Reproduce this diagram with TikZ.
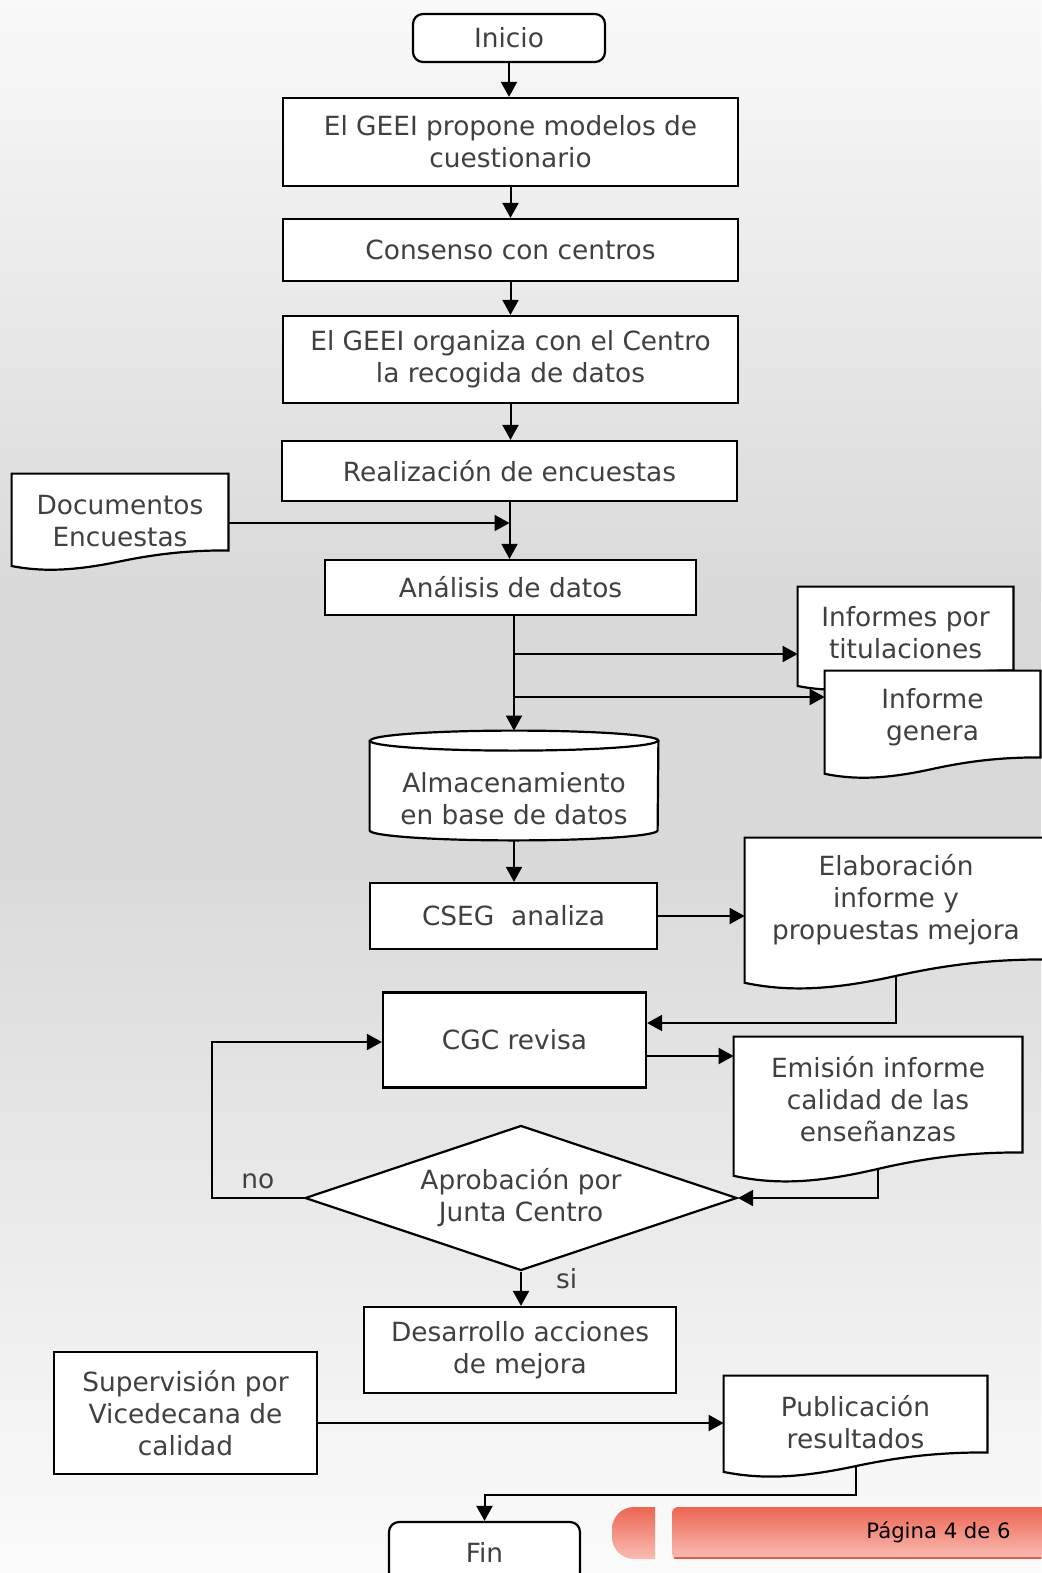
\documentclass[tikz,border=0pt]{standalone}
\usepackage{fontspec}
\setmainfont{DejaVu Sans}
\usepackage{xcolor}
\usepackage{tikz}
\usetikzlibrary{calc,arrows.meta,positioning,shapes.geometric}
\definecolor{txtgray}{HTML}{404040}
\definecolor{bgtop}{HTML}{F9F9F9}
\definecolor{bgmid}{HTML}{D9D9D9}
\definecolor{bgend}{HTML}{FBFBFB}
\definecolor{bartop}{HTML}{EE6552}
\definecolor{barbot}{HTML}{F9BDB4}
\definecolor{barline}{HTML}{D9604E}
\pgfdeclarelayer{paper}
\pgfdeclarelayer{outline}
\pgfsetlayers{paper,outline,main}
\newcommand{\chartfont}{\fontsize{13.2}{16}\selectfont}
\newcommand{\footfont}{\fontsize{10.6}{12}\selectfont}
\newcommand{\docwave}[3]{%
  \begin{pgfonlayer}{outline}
  \draw[shapeline, fill=white] ($(#1.south east)+(0pt,#3)$) -- (#1.north east) -- (#1.north west) -- ($(#1.south west)+(0pt,#3-0.78*#2)$)
    .. controls ($(#1.south west)!0.15!(#1.south east)+(0pt,#3-1.1*#2)$) and ($(#1.south west)!0.3!(#1.south east)+(0pt,#3-1.0*#2)$) .. ($(#1.south west)!0.5!(#1.south east)+(0pt,#3-0.55*#2)$)
    .. controls ($(#1.south west)!0.7!(#1.south east)+(0pt,#3-0.1*#2)$) and ($(#1.south west)!0.85!(#1.south east)+(0pt,#3)$) .. ($(#1.south east)+(0pt,#3)$) -- cycle;
  \end{pgfonlayer}}

\begin{document}
\begin{tikzpicture}[x=0.5pt, y=-0.5pt,
  procbox/.style={draw=black, line width=1.1pt, fill=white, text=txtgray, font=\chartfont, align=center, inner sep=0pt},
  termbox/.style={procbox, rounded corners=5pt},
  docbox/.style={text=txtgray, font=\chartfont, align=center, inner sep=0pt},
  decbox/.style={procbox, diamond, aspect=3},
  shapeline/.style={draw=black, line width=1.1pt},
  flow/.style={draw=black, line width=1pt, -{Triangle[length=7.5pt,width=8pt]}},
  branchlabel/.style={text=txtgray, font=\chartfont, inner sep=0pt}]
  \begin{pgfonlayer}{paper}
  \shade[top color=bgtop, bottom color=bgmid] (0,0) rectangle (1041,600);
  \fill[bgmid] (0,600) rectangle (1041,850);
  \shade[top color=bgmid, bottom color=bgend] (0,850) rectangle (1041,1573);
  \end{pgfonlayer}

  \node[termbox, minimum width=96pt, minimum height=24pt] (start) at (509,38) {Inicio};
  \node[procbox, minimum width=227.5pt, minimum height=44pt] (propone) at (510.5,142) {El GEEI propone modelos de\\cuestionario};
  \node[procbox, minimum width=227.5pt, minimum height=31pt] (consenso) at (510.5,250) {Consenso con centros};
  \node[procbox, minimum width=227.5pt, minimum height=43.5pt] (organiza) at (510.5,359.5) {El GEEI organiza con el Centro\\la recogida de datos};
  \node[procbox, minimum width=227.5pt, minimum height=30pt] (encuestas) at (509.5,471) {Realización de encuestas};
  \node[docbox, minimum width=108pt, minimum height=47pt] (docs) at (120,521) {Documentos\\Encuestas};
  \docwave{docs}{10pt}{9pt}
  \node[procbox, minimum width=185.5pt, minimum height=27.5pt] (analisis) at (510.5,587.5) {Análisis de datos};
  \node[docbox, minimum width=107.5pt, minimum height=46pt] (informes) at (905.5,633) {Informes por\\titulaciones};
  \docwave{informes}{10pt}{4.5pt}
  \node[docbox, minimum width=107.5pt, minimum height=46.5pt] (general) at (932.5,717.5) {Informe\\genera};
  \docwave{general}{10.5pt}{3.5pt}
  \node[docbox, minimum width=144pt, minimum height=44.5pt] (store) at (514,798.5) {Almacenamiento\\en base de datos};
  \begin{pgfonlayer}{outline}
  \draw[shapeline, fill=white] ([yshift=6.5pt]store.north west) -- ([yshift=6.5pt]store.south west) arc[start angle=180, end angle=360, x radius=72pt, y radius=5pt] -- ([yshift=6.5pt]store.north east) arc[start angle=0, end angle=180, x radius=72pt, y radius=5pt] -- cycle;
  \draw[shapeline] ([yshift=6.5pt]store.north west) arc[start angle=180, end angle=360, x radius=72pt, y radius=5pt];
  \end{pgfonlayer}
  \node[procbox, minimum width=143.5pt, minimum height=33pt] (cseg) at (513.5,916) {CSEG~~analiza};
  \node[docbox, minimum width=151pt, minimum height=62pt] (elabora) at (896,900) {Elaboración\\informe y\\propuestas mejora};
  \docwave{elabora}{15pt}{1.5pt}
  \node[procbox, minimum width=131.5pt, minimum height=47.5pt] (revisa) at (514.5,1040) {CGC revisa};
  \node[docbox, minimum width=144pt, minimum height=62pt] (emision) at (878,1099) {Emisión informe\\calidad de las\\enseñanzas};
  \docwave{emision}{15pt}{4.5pt}
  \node[decbox, minimum width=216pt, minimum height=72.5pt] (junta) at (521,1198) {Aprobación por\\Junta Centro};
  \node[procbox, minimum width=156pt, minimum height=43pt] (mejora) at (520,1350) {Desarrollo acciones\\de mejora};
  \node[procbox, minimum width=131.5pt, minimum height=61pt] (supervision) at (185.5,1413) {Supervisión por\\Vicedecana de\\calidad};
  \node[docbox, minimum width=131.5pt, minimum height=46pt] (publica) at (855.5,1422) {Publicación\\resultados};
  \docwave{publica}{12.5pt}{8pt}
  \node[termbox, minimum width=95.5pt, minimum height=30pt] (fin) at (484.5,1552) {Fin};

  \draw[flow] (start.south) -- (start.south |- propone.north);
  \draw[flow] (propone.south) -- (consenso.north);
  \draw[flow] (consenso.south) -- (organiza.north);
  \draw[flow] (organiza.south) -- (organiza.south |- encuestas.north);
  \draw[flow] (encuestas.south) -- (encuestas.south |- analisis.north);
  \coordinate (docin) at ([yshift=-1pt]docs.east);
  \draw[flow] (docin) -- (docin -| encuestas.south);
  \draw[flow] (store.north |- analisis.south) -- ([yshift=11.5pt]store.north);
  \coordinate (tap1) at ([yshift=-10.5pt]informes.west);
  \coordinate (tap2) at ([yshift=10.25pt]general.west);
  \draw[flow] (store.north |- tap1) -- (tap1);
  \draw[flow] (store.north |- tap2) -- (tap2);
  \draw[flow] ([yshift=1.5pt]store.south) -- (store.south |- cseg.north);
  \draw[flow] (cseg.east) -- (cseg.east -| elabora.west);
  \coordinate (elabout) at ([yshift=-6.75pt]elabora.south);
  \draw[flow] (elabout) |- ([yshift=8.5pt]revisa.east);
  \coordinate (revout) at ([yshift=-8pt]revisa.east);
  \draw[flow] (revout) -- (revout -| emision.west);
  \draw[flow] ([yshift=-3.75pt]emision.south) |- (junta.east);
  \coordinate (noturn) at ([xshift=-46pt]junta.west);
  \draw[flow] (junta.west) -- node[branchlabel, anchor=base, yshift=5pt] {no} (noturn) |- ([yshift=-1pt]revisa.west);
  \draw[flow] (junta.south) -- node[branchlabel, anchor=base west, xshift=17pt] {si} (junta.south |- mejora.north);
  \coordinate (supout) at ([yshift=-5pt]supervision.east);
  \draw[flow] (supout) -- (supout -| publica.west);
  \coordinate (pubout) at ([yshift=1.125pt]publica.south);
  \coordinate (finturn) at ([yshift=-13.5pt]publica.south);
  \draw[flow] (pubout) -- (finturn) -| (fin.north);

  \shade[top color=bartop, bottom color=barbot] (655,1507) [rounded corners=11pt] -- (612,1507) -- (612,1559) [sharp corners] -- (655,1559) -- cycle;
  \shade[top color=bartop, bottom color=barbot, rounded corners=3pt] (672,1507) rectangle (1060,1559);
  \draw[barline, line width=1pt] (674,1558) -- (1041,1558);
  \node[font=\footfont, text=black, anchor=base west, inner sep=0pt] (pagina) at (866,1538) {Página 4 de 6};
  \pgfresetboundingbox
  \useasboundingbox (0,0) rectangle (1041,1573);
\end{tikzpicture}
\end{document}
